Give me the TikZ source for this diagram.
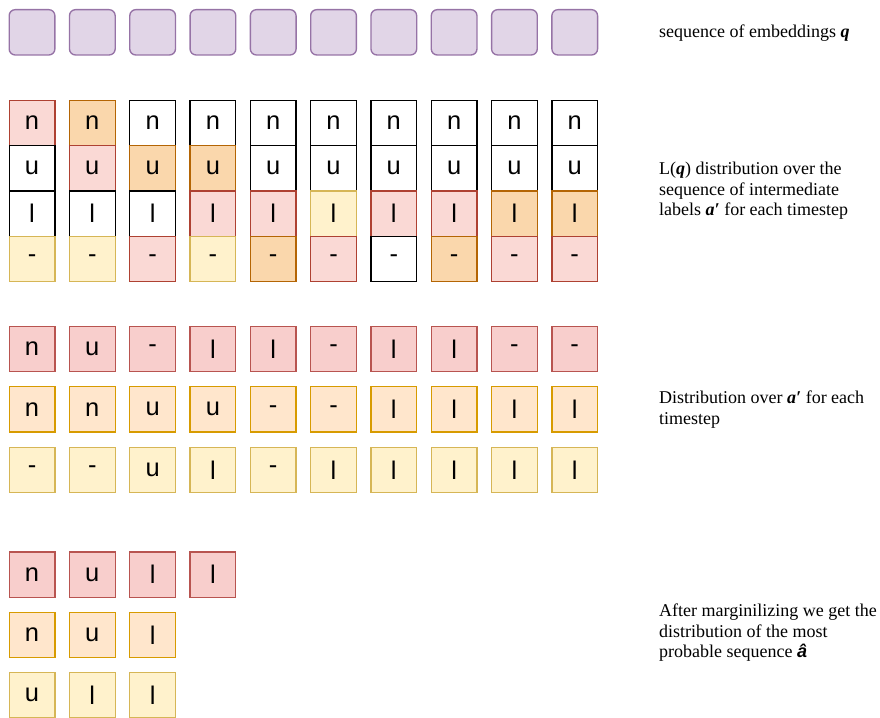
\documentclass[tikz,border=0pt]{standalone}
\usepackage{fontspec}
\setmainfont{Liberation Serif}
\newfontfamily\boxfont{Liberation Sans}
\definecolor{purF}{HTML}{E1D5E7}\definecolor{purD}{HTML}{9673A6}
\definecolor{rcF}{HTML}{FAD9D5}\definecolor{rcD}{HTML}{AE4132}
\definecolor{ocF}{HTML}{FAD7AC}\definecolor{ocD}{HTML}{B46504}
\definecolor{ycF}{HTML}{FFF2CC}\definecolor{ycD}{HTML}{D6B656}
\definecolor{rbF}{HTML}{F8CECC}\definecolor{rbD}{HTML}{B85450}
\definecolor{obF}{HTML}{FFE6CC}\definecolor{obD}{HTML}{D79B00}
\begin{document}
\begin{tikzpicture}[x=1pt,y=-1pt,
  cellbase/.style={draw, line width=1.35pt, minimum width=45.7pt, minimum height=45.3pt,
    inner sep=0pt, anchor=north west, font=\boxfont\fontsize{25.5}{25.5}\selectfont},
  embbox/.style={cellbase, fill=purF, draw=purD, rounded corners=6pt},
  cw/.style={cellbase, fill=white, draw=black},
  cr/.style={cellbase, fill=rcF, draw=rcD},
  co/.style={cellbase, fill=ocF, draw=ocD},
  cy/.style={cellbase, fill=ycF, draw=ycD},
  bR/.style={cellbase, fill=rbF, draw=rbD},
  bO/.style={cellbase, fill=obF, draw=obD},
  bY/.style={cellbase, fill=ycF, draw=ycD},
  lab/.style={anchor=base west, inner sep=0pt, font=\fontsize{18}{20.7}\selectfont}]
\useasboundingbox (0,0) rectangle (880,717);
% embeddings
\foreach \i in {0,...,9}
  \node[embbox] (e\i) at ({8.5+60.3*\i},9) {};
% grid of distributions L(q)
\foreach \i/\a/\b/\c/\d in {0/cr/cw/cw/cy,1/co/cr/cw/cy,2/cw/co/cw/cr,3/cw/co/cr/cy,4/cw/cw/cr/co,
    5/cw/cw/cy/cr,6/cw/cw/cr/cw,7/cw/cw/cr/co,8/cw/cw/co/cr,9/cw/cw/co/cr}{
  \node[\a] (g\i n) at ({8.5+60.3*\i},99.7) {n};
  \node[\b] (g\i u) at ({8.5+60.3*\i},145.0) {u};
  \node[\c] (g\i l) at ({8.5+60.3*\i},190.3) {l};
  \node[\d] (g\i d) at ({8.5+60.3*\i},235.6) {-};
}
% distribution over a'
\foreach \t [count=\i from 0] in {n,u,-,l,l,-,l,l,-,-}
  \node[bR] (d1\i) at ({8.5+60.3*\i},325.5) {\t};
\foreach \t [count=\i from 0] in {n,n,u,u,-,-,l,l,l,l}
  \node[bO] (d2\i) at ({8.5+60.3*\i},386) {\t};
\foreach \t [count=\i from 0] in {-,-,u,l,-,l,l,l,l,l}
  \node[bY] (d3\i) at ({8.5+60.3*\i},446.5) {\t};
% marginalised
\foreach \t [count=\i from 0] in {n,u,l,l}
  \node[bR] (m1\i) at ({8.5+60.3*\i},551.2) {\t};
\foreach \t [count=\i from 0] in {n,u,l}
  \node[bO] (m2\i) at ({8.5+60.3*\i},611.6) {\t};
\foreach \t [count=\i from 0] in {u,l,l}
  \node[bY] (m3\i) at ({8.5+60.3*\i},672) {\t};
% labels
\node[lab] (t1) at (659,37.5) {sequence of embeddings \textbf{\textit{q}}};
\node[lab] (t2a) at (659,174.3) {L(\textbf{\textit{q}}) distribution over the};
\node[lab] (t2b) at (659,195) {sequence of intermediate};
\node[lab] (t2c) at (659,215.7) {labels \textbf{\textit{a′}} for each timestep};
\node[lab] (t3a) at (659,403.3) {Distribution over \textbf{\textit{a′}} for each};
\node[lab] (t3b) at (659,424) {timestep};
\node[lab] (t4a) at (659,616.2) {After marginilizing we get the};
\node[lab] (t4b) at (659,637) {distribution of the most};
\node[lab] (t4c) at (659,657.5) {probable sequence {\boxfont\bfseries\itshape â}};
\end{tikzpicture}
\end{document}
